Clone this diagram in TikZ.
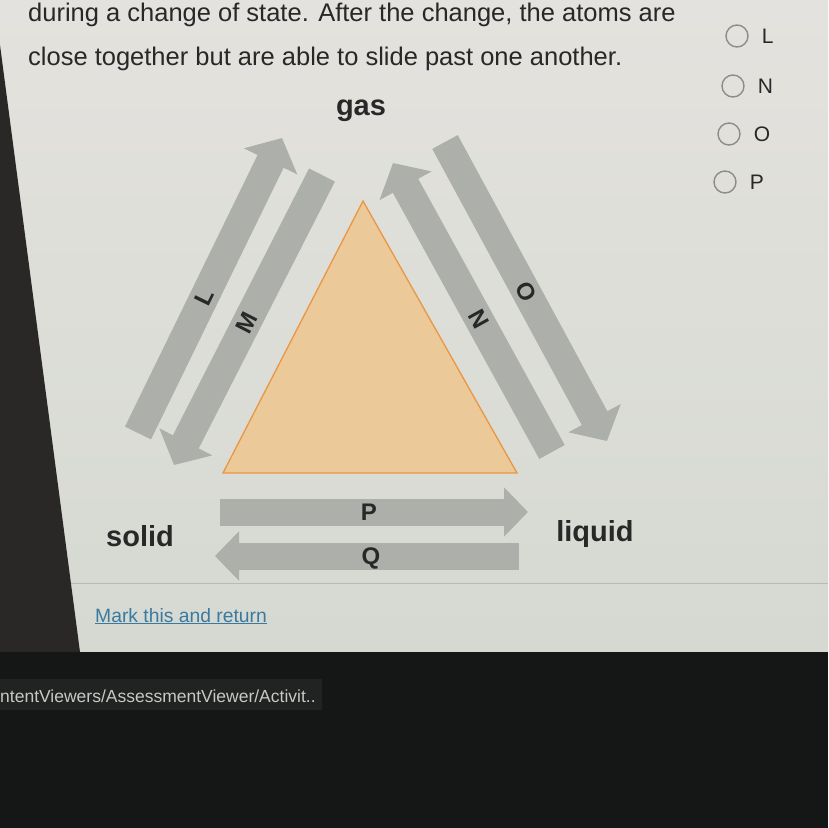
\documentclass[tikz,border=0pt]{standalone}
\usepackage{fontspec}
\setmainfont{Liberation Sans}
\usetikzlibrary{arrows.meta,positioning}
\definecolor{ink}{RGB}{40,40,40}
\definecolor{pagetop}{RGB}{228,226,222}
\definecolor{pagebot}{RGB}{213,217,209}
\definecolor{arrowgray}{RGB}{172,175,170}
\definecolor{meltfill}{RGB}{235,201,152}
\definecolor{meltedge}{RGB}{234,150,68}
\definecolor{screendark}{RGB}{20,23,21}
\definecolor{bezel}{RGB}{42,40,38}
\definecolor{statusbg}{RGB}{32,35,33}
\definecolor{statusgray}{RGB}{200,200,196}
\definecolor{linkblue}{RGB}{58,122,160}

\begin{document}
\begin{tikzpicture}[x=1pt,y=-1pt,
    phase/.style={font=\fontsize{29}{32}\selectfont\bfseries,text=ink,
      inner sep=0pt},
    tilted/.style={line width=29pt,arrowgray,
      -{Triangle[length=26pt,width=58pt]}},
    flatarrow/.style={line width=27pt,arrowgray,
      -{Triangle[length=24pt,width=48pt]}},
    arrowtag/.style={font=\fontsize{24}{26}\selectfont\bfseries,text=ink,
      sloped,inner sep=0pt},
    radio/.style={circle,draw=gray!90,line width=1.4pt,
      minimum size=22pt,inner sep=0pt},
    question/.style={font=\fontsize{25.5}{30}\selectfont,text=ink,
      inner sep=0pt,anchor=base west}]
    \useasboundingbox (0,0) rectangle (828,828);
    % screen, page and the dark edge of the photo
    \fill[top color=pagetop,bottom color=pagebot] (0,0) rectangle (828,652);
    \draw[line width=1pt,gray!55] (0,583) -- (828,583);
    \fill[screendark] (0,652) rectangle (828,828);
    \fill[bezel] (0,45) -- (80,652) -- (0,652) -- cycle;

    % question text
    \node[question] (q1) at (28,21)
      {during a change of state. After the change, the atoms are};
    \node[question] (q2) at (28,65)
      {close together but are able to slide past one another.};

    % answer choices
    \foreach \opt/\cx/\cy in {L/737/36,N/733/86,O/729/134,P/725/182}{
      \node[radio] (opt\opt) at (\cx,\cy) {};
      \node[right=13pt of opt\opt,inner sep=0pt,text=ink,
        font=\fontsize{21}{24}\selectfont] (optlbl\opt) {\opt};
    }

    % the three states
    \node[phase,anchor=base] (gas) at (361,115) {gas};
    \node[phase,anchor=base] (solid) at (140,546) {solid};
    \node[phase,anchor=base] (liquid) at (595,541) {liquid};

    % arrow ends
    \coordinate (Ltail) at (138,433);  \coordinate (Ltip) at (282,138);
    \coordinate (Mtail) at (322,175);  \coordinate (Mtip) at (174,465);
    \coordinate (Ntail) at (552,452);  \coordinate (Ntip) at (393,163);
    \coordinate (Otail) at (445,142);  \coordinate (Otip) at (607,441);
    \coordinate (Ptail) at (220,512);  \coordinate (Ptip) at (528,512);
    \coordinate (Qtail) at (519,556);  \coordinate (Qtip) at (215,556);

    \draw[tilted] (Ltail) -- node[arrowtag,pos=0.46] (tagL) {L} (Ltip);
    \draw[tilted] (Mtail) -- node[arrowtag,pos=0.51] (tagM) {M} (Mtip);
    \draw[tilted] (Ntail) -- node[arrowtag,pos=0.46] (tagN) {N} (Ntip);
    \draw[tilted] (Otail) -- node[arrowtag,pos=0.50] (tagO) {O} (Otip);
    \draw[flatarrow] (Ptail) -- (Ptip);
    \draw[flatarrow] (Qtail) -- (Qtip);
    \node[arrowtag] (tagP) at (369,512) {P};
    \node[arrowtag] (tagQ) at (371,558) {Q};

    % triangle
    \coordinate (apex) at (363,201);
    \coordinate (baseL) at (223,473);
    \coordinate (baseR) at (517,473);
    \filldraw[fill=meltfill,draw=meltedge,line width=1.3pt]
      (apex) -- (baseR) -- (baseL) -- cycle;

    % link and status bar
    \node[anchor=base west,inner sep=0pt,text=linkblue,
      font=\fontsize{19.3}{22}\selectfont] (mark) at (95,622)
      {\underline{Mark this and return}};
    \fill[statusbg] (0,679) rectangle (322,710);
    \node[anchor=base west,inner sep=0pt,text=statusgray,
      font=\fontsize{17.5}{20}\selectfont] (status) at (0,702)
      {ntentViewers/AssessmentViewer/Activit..};
  \end{tikzpicture}
\end{document}
